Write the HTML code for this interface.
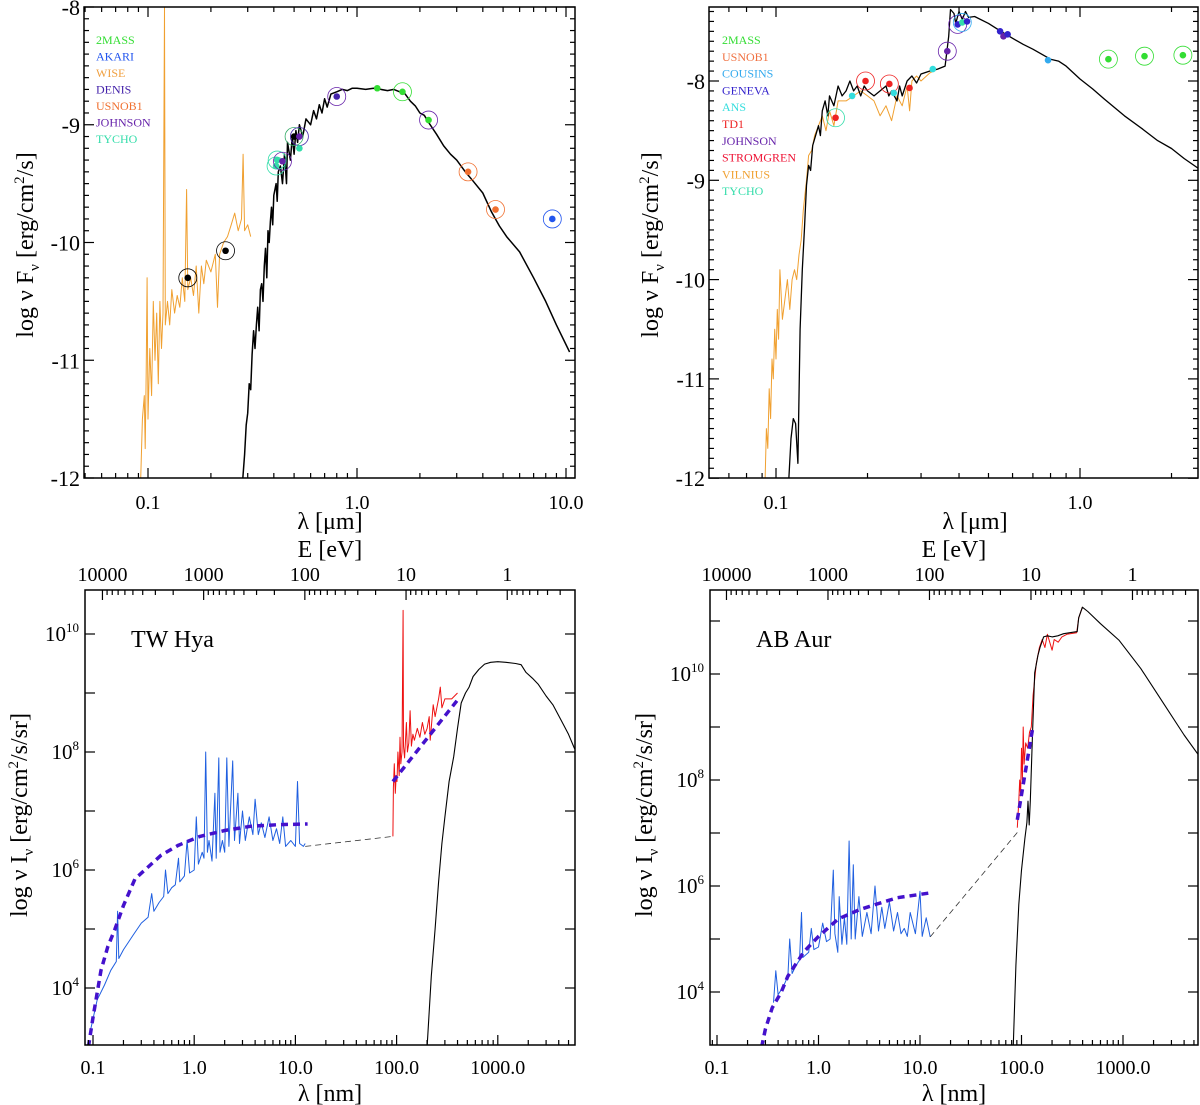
<!DOCTYPE html>
<html><head><meta charset="utf-8">
<style>
html,body{margin:0;padding:0;background:#fff;}
svg{display:block;font-family:"Liberation Serif","DejaVu Serif",serif;}
</style></head>
<body>
<svg id="fig" width="1200" height="1105" viewBox="0 0 1200 1105" xmlns="http://www.w3.org/2000/svg">
<defs>
<clipPath id="cA"><rect x="84" y="7" width="491" height="471"/></clipPath>
<clipPath id="cB"><rect x="709" y="7" width="489" height="471"/></clipPath>
<clipPath id="cC"><rect x="85" y="590" width="490" height="455"/></clipPath>
<clipPath id="cD"><rect x="710" y="590" width="488" height="455"/></clipPath>
</defs>
</svg>
<script>
// ---------- Panel A (top-left) data: [lambda um, log nuFnu]
const aModel=[[0.283,-12.05],[0.29,-11.8],[0.295,-11.55],[0.30,-11.45],[0.305,-11.2],[0.31,-11.25],[0.315,-10.95],[0.32,-10.75],[0.325,-10.9],[0.33,-10.7],[0.335,-10.55],[0.34,-10.75],[0.345,-10.4],[0.35,-10.35],[0.355,-10.5],[0.36,-10.2],[0.365,-10.05],[0.37,-10.3],[0.375,-9.9],[0.38,-10.0],[0.385,-9.82],[0.39,-9.7],[0.395,-9.85],[0.40,-9.6],[0.41,-9.5],[0.415,-9.65],[0.42,-9.4],[0.43,-9.35],[0.44,-9.5],[0.45,-9.25],[0.46,-9.5],[0.465,-9.15],[0.48,-9.3],[0.49,-9.1],[0.50,-9.25],[0.51,-9.05],[0.52,-9.15],[0.53,-9.0],[0.55,-9.1],[0.57,-8.95],[0.60,-9.0],[0.62,-8.88],[0.64,-8.95],[0.66,-8.83],[0.68,-8.9],[0.70,-8.78],[0.72,-8.85],[0.75,-8.74],[0.80,-8.72],[0.85,-8.70],[0.9,-8.71],[0.95,-8.69],[1.0,-8.69],[1.1,-8.7],[1.2,-8.69],[1.3,-8.7],[1.4,-8.71],[1.5,-8.7],[1.6,-8.72],[1.7,-8.74],[1.8,-8.8],[1.9,-8.84],[2.0,-8.9],[2.1,-8.92],[2.2,-8.98],[2.4,-9.08],[2.6,-9.18],[2.8,-9.25],[3.0,-9.3],[3.3,-9.4],[3.6,-9.48],[4.0,-9.58],[4.4,-9.74],[4.8,-9.86],[5.2,-9.95],[6.0,-10.08],[7.0,-10.3],[8.0,-10.5],[9.0,-10.7],[10.4,-10.93]];
const aUV=[[0.092,-12.1],[0.094,-11.5],[0.096,-11.3],[0.097,-11.75],[0.098,-11.1],[0.099,-10.3],[0.100,-11.5],[0.102,-10.9],[0.104,-11.3],[0.106,-10.5],[0.108,-11.0],[0.110,-10.6],[0.112,-11.2],[0.114,-10.5],[0.116,-10.9],[0.118,-10.6],[0.120,-8.0],[0.121,-10.7],[0.124,-10.5],[0.127,-10.7],[0.130,-10.4],[0.134,-10.6],[0.138,-10.45],[0.142,-10.55],[0.146,-10.3],[0.150,-10.5],[0.153,-9.55],[0.155,-10.4],[0.160,-10.3],[0.165,-10.45],[0.17,-10.2],[0.175,-10.6],[0.18,-10.2],[0.185,-10.35],[0.19,-10.15],[0.2,-10.25],[0.21,-10.1],[0.215,-10.55],[0.22,-10.1],[0.23,-10.0],[0.24,-9.95],[0.25,-9.85],[0.26,-9.75],[0.27,-9.9],[0.28,-9.8],[0.285,-9.25],[0.29,-9.9],[0.30,-9.85],[0.31,-9.95]];
const aPhotLam=[0.155,0.235,0.41,0.415,0.44,0.50,0.53,0.53,0.80,1.25,1.65,2.2,3.4,4.6,8.6];
const aPhotVal=[-10.3,-10.07,-9.35,-9.3,-9.31,-9.1,-9.1,-9.2,-8.76,-8.69,-8.72,-8.96,-9.4,-9.72,-9.8];
const aPhotCol=["#000","#000","#33ddaa","#33ddaa","#6622aa","#000","#6622aa","#33ddaa","#4422aa","#33dd33","#33dd33","#33dd33","#f07030","#f07030","#2255ee"];
const aRingCol=["#000","#000","#33ddaa","#33ddaa","#6622aa","#33aa66","#4422aa",null,"#6622aa",null,"#33dd33","#6622aa","#f07030","#f07030","#2255ee"];
const aLegend=["2MASS","AKARI","WISE","DENIS","USNOB1","JOHNSON","TYCHO"];
const aLegendCol=["#33dd33","#2255ee","#f0a040","#4422aa","#f07030","#6622aa","#33ddaa"];

// ---------- Panel B (top-right)
const bModel=[[0.11,-12.05],[0.112,-11.6],[0.114,-11.4],[0.116,-11.45],[0.118,-11.85],[0.12,-10.5],[0.122,-9.9],[0.124,-9.5],[0.126,-9.05],[0.128,-8.85],[0.13,-8.9],[0.132,-8.65],[0.135,-8.55],[0.138,-8.45],[0.14,-8.55],[0.142,-8.3],[0.145,-8.2],[0.148,-8.35],[0.15,-8.15],[0.155,-8.25],[0.16,-8.05],[0.165,-8.15],[0.17,-8.1],[0.175,-8.0],[0.18,-8.1],[0.185,-8.05],[0.19,-8.15],[0.195,-8.05],[0.2,-8.1],[0.21,-8.15],[0.22,-8.1],[0.23,-8.05],[0.235,-8.15],[0.24,-8.1],[0.25,-8.2],[0.255,-8.05],[0.26,-8.15],[0.27,-8.0],[0.28,-7.95],[0.29,-8.02],[0.30,-7.93],[0.32,-7.9],[0.34,-7.88],[0.36,-7.85],[0.37,-7.55],[0.375,-7.28],[0.385,-7.32],[0.39,-7.42],[0.40,-7.3],[0.41,-7.38],[0.42,-7.3],[0.43,-7.36],[0.45,-7.35],[0.5,-7.42],[0.55,-7.5],[0.6,-7.57],[0.65,-7.63],[0.7,-7.68],[0.8,-7.78],[0.85,-7.8],[0.9,-7.85],[1.0,-7.98],[1.1,-8.08],[1.2,-8.18],[1.4,-8.35],[1.6,-8.48],[1.8,-8.6],[2.0,-8.68],[2.2,-8.78],[2.45,-8.88]];
const bUV=[[0.092,-12.05],[0.093,-11.5],[0.094,-11.7],[0.095,-11.1],[0.096,-11.4],[0.097,-10.8],[0.098,-11.0],[0.099,-10.5],[0.10,-10.8],[0.101,-10.3],[0.102,-10.6],[0.103,-9.9],[0.105,-10.4],[0.107,-10.2],[0.109,-10.0],[0.111,-10.3],[0.113,-10.0],[0.115,-9.9],[0.117,-10.0],[0.119,-9.75],[0.121,-9.6],[0.123,-9.3],[0.126,-9.0],[0.128,-8.75],[0.131,-8.7],[0.134,-8.55],[0.138,-8.45],[0.142,-8.35],[0.146,-8.5],[0.15,-8.3],[0.155,-8.45],[0.16,-8.2],[0.17,-8.2],[0.18,-8.15],[0.19,-8.1],[0.2,-8.15],[0.21,-8.2],[0.22,-8.35],[0.23,-8.25],[0.24,-8.4],[0.25,-8.15],[0.26,-8.25],[0.27,-8.05],[0.275,-8.3],[0.28,-8.0],[0.29,-7.95],[0.30,-8.0],[0.32,-7.92],[0.34,-7.88]];
const bPhotLam=[0.157,0.178,0.197,0.236,0.244,0.275,0.328,0.366,0.396,0.41,0.425,0.546,0.56,0.578,0.785,1.24,1.63,2.18];
const bPhotVal=[-8.37,-8.15,-8.0,-8.03,-8.12,-8.07,-7.88,-7.7,-7.43,-7.41,-7.4,-7.5,-7.55,-7.53,-7.79,-7.78,-7.75,-7.74];
const bPhotCol=["#ee2222","#33dddd","#ee2222","#ee2222","#33dddd","#ee2222","#33dddd","#6622aa","#3322cc","#33ddaa","#3322cc","#3322cc","#6622aa","#3322cc","#33aaee","#33dd33","#33dd33","#33dd33"];
const bRingCol=["#33ddaa",null,"#ee2222","#ee2222",null,null,null,"#6622aa","#6622aa","#33aaee",null,null,null,null,null,"#33dd33","#33dd33","#33dd33"];
const bLegend=["2MASS","USNOB1","COUSINS","GENEVA","ANS","TD1","JOHNSON","STROMGREN","VILNIUS","TYCHO"];
const bLegendCol=["#33dd33","#f07040","#33aaee","#3322cc","#33dddd","#ee2222","#6622aa","#ee1133","#f0a030","#33ddaa"];

// ---------- Panel C (TW Hya): [lambda nm, log10 nuI]
const cXray=[[0.095,3.3],[0.11,3.8],[0.13,4.05],[0.15,4.3],[0.17,4.45],[0.175,5.3],[0.18,4.5],[0.2,4.65],[0.25,4.9],[0.3,5.1],[0.35,5.2],[0.38,5.6],[0.4,5.3],[0.45,5.45],[0.5,5.55],[0.52,6.0],[0.55,5.6],[0.6,5.7],[0.65,5.75],[0.7,6.2],[0.72,5.8],[0.8,5.9],[0.85,6.5],[0.9,5.95],[1.0,6.0],[1.05,6.9],[1.1,6.1],[1.2,6.3],[1.25,6.2],[1.3,8.0],[1.35,6.3],[1.4,6.5],[1.5,6.15],[1.6,7.3],[1.65,6.2],[1.75,7.9],[1.8,6.3],[1.9,6.5],[2.0,6.3],[2.1,7.9],[2.2,6.4],[2.4,7.85],[2.5,6.5],[2.7,7.3],[2.8,6.45],[3.0,7.0],[3.2,6.5],[3.5,6.9],[3.8,6.6],[4.0,7.2],[4.3,6.6],[4.6,6.8],[5.0,6.55],[5.5,6.9],[6.0,6.5],[6.5,6.7],[7.0,6.45],[7.5,6.9],[8.0,6.4],[9.0,6.5],[10.0,6.4],[10.5,7.5],[11,6.45],[12,6.4],[12.5,6.45]];
const cFitX=[[0.09,3.0],[0.1,3.5],[0.12,4.3],[0.14,4.7],[0.165,5.0],[0.2,5.4],[0.26,5.85],[0.35,6.05],[0.47,6.25],[0.7,6.42],[1.14,6.57],[2.0,6.67],[3.6,6.74],[7.0,6.77],[13.2,6.78]];
const cGap=[[12.5,6.4],[92,6.57]];
const cUV=[[92,6.57],[93,7.4],[95,7.8],[97,7.3],[99,7.6],[101,7.5],[103,8.0],[106,7.6],[108,8.25],[110,7.8],[113,8.0],[116,10.4],[117,8.1],[120,7.9],[125,8.5],[128,8.0],[132,8.15],[136,8.7],[140,8.1],[145,8.3],[150,8.2],[160,8.4],[170,8.25],[180,8.5],[190,8.3],[200,8.4],[210,8.6],[215,8.2],[230,8.8],[240,8.6],[260,8.9],[270,9.1],[280,8.75],[300,8.9],[350,8.9],[400,9.0]];
const cFitUV=[[92,7.5],[408,8.9]];
const cStar=[[200,3.0],[220,4.2],[240,5.0],[260,5.8],[280,6.45],[300,6.9],[330,7.5],[367,7.92],[400,8.4],[435,8.83],[480,9.0],[520,9.1],[570,9.28],[650,9.4],[740,9.49],[850,9.52],[1000,9.53],[1200,9.52],[1500,9.5],[1700,9.48],[1900,9.35],[2200,9.25],[2500,9.15],[3000,8.95],[3500,8.8],[4250,8.53],[5000,8.3],[5750,8.05]];

// ---------- Panel D (AB Aur)
const dXray=[[0.36,3.8],[0.38,4.4],[0.4,3.95],[0.45,4.1],[0.5,4.3],[0.52,5.0],[0.55,4.35],[0.6,4.5],[0.65,4.6],[0.68,5.5],[0.7,4.65],[0.8,4.75],[0.85,5.2],[0.9,4.8],[1.0,4.85],[1.1,5.3],[1.2,4.95],[1.3,5.0],[1.4,6.3],[1.45,5.1],[1.55,4.75],[1.6,5.8],[1.7,4.9],[1.8,5.4],[1.9,4.9],[2.0,6.85],[2.1,5.0],[2.2,6.4],[2.3,5.0],[2.5,5.8],[2.7,5.05],[3.0,5.5],[3.3,5.1],[3.6,6.0],[3.9,5.15],[4.2,5.6],[4.5,5.2],[5.0,5.7],[5.5,5.15],[6.0,5.5],[6.5,5.1],[7.0,5.2],[7.5,5.05],[8.0,5.5],[9.0,5.1],[10.0,5.9],[10.5,5.05],[11.5,5.4],[12.6,5.04]];
const dFitX=[[0.275,2.96],[0.3,3.3],[0.35,3.7],[0.43,4.0],[0.5,4.3],[0.72,4.76],[1.0,5.05],[1.57,5.38],[2.5,5.55],[3.77,5.66],[6,5.78],[12.6,5.87]];
const dGap=[[12.6,5.04],[91,7.01]];
const dUV=[[91,7.1],[94,7.6],[96,8.0],[98,7.7],[100,8.6],[102,8.0],[104,9.0],[106,8.3],[110,8.7],[115,8.6],[120,8.9],[125,9.0],[130,9.6],[140,10.2],[150,10.5],[160,10.65],[170,10.5],[180,10.75],[200,10.45],[210,10.65],[230,10.6],[250,10.7],[280,10.75],[350,10.78],[366,11.06],[398,11.26]];
const dFitUV=[[91,7.25],[129,8.98]];
const dStar=[[83,3.0],[88,4.5],[94,5.65],[100,6.3],[108,6.9],[113,7.2],[116,7.6],[119,7.15],[122,7.6],[129,8.98],[135,10.02],[145,10.35],[152,10.5],[165,10.7],[180,10.72],[200,10.7],[228,10.72],[260,10.76],[300,10.78],[354,10.8],[366,11.06],[398,11.26],[450,11.18],[600,10.95],[912,10.64],[1500,10.1],[2500,9.45],[4000,8.85],[5750,8.43]];

// ---------- tick label arrays
const aYTicks=[-8,-9,-10,-11,-12];
const aXTicks=[0.1,1.0,10.0];
const bYTicks=[-8,-9,-10,-11,-12];
const bXTicks=[0.1,1.0];
const cdYTicks=[4,6,8,10];
const cdXTicks=[0.1,1.0,10.0,100.0,1000.0];
const eTicks=[10000,1000,100,10,1];

const NS="http://www.w3.org/2000/svg";
const svg=document.getElementById('fig');
function mk(tag,attrs,parent){const e=document.createElementNS(NS,tag);for(const k in attrs)e.setAttribute(k,attrs[k]);(parent||svg).appendChild(e);return e;}
const L10=Math.log10;

const P={
 A:{x0:84,x1:575,y0:7,y1:478,sx:v=>148+(L10(v)+1)*209,sy:v=>7+(-8-v)*117.75,clip:'cA'},
 B:{x0:709,x1:1198,y0:7,y1:478,sx:v=>776+(L10(v)+1)*304,sy:v=>81+(-8-v)*99.3,clip:'cB'},
 C:{x0:85,x1:575,y0:590,y1:1045,sx:v=>93+(L10(v)+1)*101.2,sy:v=>634+(10-v)*59,clip:'cC'},
 D:{x0:710,x1:1198,y0:590,y1:1045,sx:v=>717+(L10(v)+1)*101.5,sy:v=>674+(10-v)*53,clip:'cD'}
};

function series(p,data,stroke,w,dash,name){
  const g=mk('g',{'clip-path':'url(#'+p.clip+')'});
  const pts=data.map(d=>p.sx(d[0]).toFixed(1)+','+p.sy(d[1]).toFixed(1)).join(' ');
  const a={points:pts,fill:'none',stroke:stroke,'stroke-width':w,'stroke-linejoin':'round'};
  if(dash)a['stroke-dasharray']=dash;
  const el=mk('polyline',a,g);
  
  
}
function phot(p,lams,vals,cols,rings,prefix){
  const g=mk('g',{'clip-path':'url(#'+p.clip+')'});
  for(let i=0;i<lams.length;i++){
    const x=p.sx(lams[i]),y=p.sy(vals[i]);
    if(rings[i]){const r=mk('circle',{cx:x,cy:y,r:9,fill:'none',stroke:rings[i],'stroke-width':0.8},g);
      
      }
    const c=mk('circle',{cx:x,cy:y,r:3.3,fill:cols[i]},g);
    
    
  }
}
function frame(p,name){
  const r=mk('rect',{x:p.x0,y:p.y0,width:p.x1-p.x0,height:p.y1-p.y0,fill:'none',stroke:'#000','stroke-width':1.5});
  
  
}
function tk(x1,y1,x2,y2){mk('line',{x1,y1,x2,y2,stroke:'#000','stroke-width':1.2});}
function logTicksX(p,lo,hi,top,bottom,len){
  for(let e=lo;e<=hi;e++){for(let m=1;m<10;m++){const v=m*Math.pow(10,e);const x=p.sx(v);
    if(x<p.x0+0.5||x>p.x1-0.5)continue;const l=m===1?len:len/2;
    if(bottom)tk(x,p.y1,x,p.y1-l);if(top)tk(x,p.y0,x,p.y0+l);}}
}
function text(x,y,s,size,anchor,name,fill){
  const t=mk('text',{x,y,'font-size':size,'text-anchor':anchor||'middle',fill:fill||'#000'});
  t.textContent=s;
  
  
  return t;
}

// ===== Panel A =====
(function(){const p=P.A;
 series(p,aUV,'#f0a030',1,null,'uv-spectrum-a');
 series(p,aModel,'#000',1.5,null,'model-spectrum-a');
 phot(p,aPhotLam,aPhotVal,aPhotCol,aRingCol,'photometry-a');
 frame(p,'plot-frame-a');
 for(let v=-12;v<=-8.001+0.1;v+=0.1){const y=p.sy(v);if(y<p.y0-0.5)continue;const maj=Math.abs(v-Math.round(v))<0.01;const l=maj?10:5;tk(p.x0,y,p.x0+l,y);tk(p.x1,y,p.x1-l,y);}
 logTicksX(p,-2,1,true,true,10);
 aYTicks.forEach(v=>text(80,p.sy(v)+8,String(v),22,'end','y-tick-label-a'));
 aXTicks.forEach(v=>text(p.sx(v),509,v.toFixed(1),20,'middle','x-tick-label-a'));
 aLegend.forEach((s,i)=>text(96,44+i*16.5,s,12,'start','legend-entry-a',aLegendCol[i]));
})();
// ===== Panel B =====
(function(){const p=P.B;
 series(p,bUV,'#f0a030',1,null,'uv-spectrum-b');
 series(p,bModel,'#000',1.3,null,'model-spectrum-b');
 phot(p,bPhotLam,bPhotVal,bPhotCol,bRingCol,'photometry-b');
 frame(p,'plot-frame-b');
 for(let i=0;i<=48;i++){const v=-12+i*0.1;const y=p.sy(v);if(y<p.y0+0.5)continue;const maj=i%10===0;const l=maj?10:5;tk(p.x0,y,p.x0+l,y);tk(p.x1,y,p.x1-l,y);}
 logTicksX(p,-2,0,true,true,10);
 bYTicks.forEach(v=>text(705,p.sy(v)+8,String(v),22,'end','y-tick-label-b'));
 bXTicks.forEach(v=>text(p.sx(v),509,v.toFixed(1),20,'middle','x-tick-label-b'));
 bLegend.forEach((s,i)=>text(722,44+i*16.8,s,12,'start','legend-entry-b',bLegendCol[i]));
})();
// ===== Panels C & D =====
function bottomPanel(p,xray,fitX,gap,uv,fitUV,star,suffix,starName,ylo,yhi){
 series(p,xray,'#1f5fe0',1,null,'xray-spectrum-'+suffix);
 series(p,gap,'#333',0.8,'6,4','interpolation-'+suffix);
 series(p,uv,'#ee1111',1,null,'uv-spectrum-'+suffix);
 series(p,star,'#000',1.1,null,'photosphere-'+suffix);
 series(p,fitX,'#4411cc',3.5,'7,5','xray-fit-'+suffix);
 series(p,fitUV,'#4411cc',3.5,'7,5','uv-fit-'+suffix);
 frame(p,'plot-frame-'+suffix);
 for(let d=ylo;d<=yhi;d++){const y=p.sy(d);if(y<p.y0+0.5||y>p.y1-0.5)continue;tk(p.x0,y,p.x0+10,y);tk(p.x1,y,p.x1-10,y);}
 logTicksX(p,-2,3,false,true,10);
 for(let e=-1;e<=4;e++){for(let m=1;m<10;m++){const E=m*Math.pow(10,e);const x=p.sx(1239.84/E);if(x<p.x0+0.5||x>p.x1-0.5)continue;tk(x,p.y0,x,p.y0+(m===1?10:5));}}
 eTicks.forEach(E=>text(p.sx(1239.84/E),581,String(E),20,'middle','top-tick-label-'+suffix));
 cdXTicks.forEach(v=>text(p.sx(v),1074,v.toFixed(1),20,'middle','x-tick-label-'+suffix));
 cdYTicks.forEach(v=>{const t=mk('text',{x:p.x0-6,y:p.sy(v)+7,'font-size':21,'text-anchor':'end'});
   
   
   const a=mk('tspan',{},t);a.textContent='10';const b=mk('tspan',{'font-size':13,dy:-9},t);b.textContent=String(v);});
 const cx=(p.x0+p.x1)/2;
 text(cx,557,'E [eV]',24,'middle','top-axis-title-'+suffix);
 text(cx,1101,'λ [nm]',24,'middle','x-axis-title-'+suffix);
 text(p.x0+46,647,starName,24,'start','star-name-'+suffix);
}
bottomPanel(P.C,cXray,cFitX,cGap,cUV,cFitUV,cStar,'c','TW Hya',3,10);
bottomPanel(P.D,dXray,dFitX,dGap,dUV,dFitUV,dStar,'d','AB Aur',3,11);

text(330,529,'λ [μm]',24,'middle','x-axis-title-a');
text(975,529,'λ [μm]',24,'middle','x-axis-title-b');
function ytitle(x,y,main,sub,rest,sup,tail,name){
 const t=mk('text',{x:0,y:0,'font-size':24,'text-anchor':'middle',transform:'translate('+x+','+y+') rotate(-90)'});
 
 
 const a=mk('tspan',{},t);a.textContent=main;
 const b=mk('tspan',{'font-size':15,dy:6},t);b.textContent=sub;
 const c=mk('tspan',{dy:-6},t);c.textContent=rest;
 const d=mk('tspan',{'font-size':15,dy:-9},t);d.textContent=sup;
 const e=mk('tspan',{dy:9},t);e.textContent=tail;
}
ytitle(33,245,'log ν F','ν',' [erg/cm','2','/s]','y-axis-title-a');
ytitle(658,245,'log ν F','ν',' [erg/cm','2','/s]','y-axis-title-b');
ytitle(27,815,'log ν I','ν',' [erg/cm','2','/s/sr]','y-axis-title-c');
ytitle(652,815,'log ν I','ν',' [erg/cm','2','/s/sr]','y-axis-title-d');
</script>
</body></html>
